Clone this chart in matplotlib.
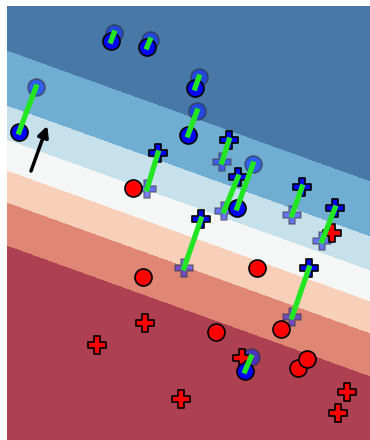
import numpy as np
import matplotlib
matplotlib.use('Agg')
import matplotlib.pyplot as plt

# blue class, circles: original point and counterfactual
blue_circ_x = [1.04, 1.40, 1.88, 1.81, 0.12, 2.30, 2.38]
blue_circ_y = [3.99, 3.93, 3.52, 3.05, 3.08, 2.32, 0.69]
blue_circ_cx = [1.07, 1.43, 1.92, 1.90, 0.29, 2.46, 2.44]
blue_circ_cy = [4.07, 4.00, 3.63, 3.29, 3.53, 2.76, 0.83]

# blue class, pluses
blue_plus_x = [1.51, 2.22, 2.31, 2.95, 3.28, 1.94, 3.02]
blue_plus_y = [2.87, 3.00, 2.63, 2.53, 2.32, 2.21, 1.72]
blue_plus_cx = [1.40, 2.15, 2.17, 2.85, 3.15, 1.77, 2.85]
blue_plus_cy = [2.51, 2.78, 2.29, 2.25, 1.99, 1.72, 1.23]

# red class
red_circ_x = [1.26, 1.36, 2.50, 2.09, 2.74, 2.91, 3.00]
red_circ_y = [2.52, 1.63, 1.72, 1.08, 1.11, 0.72, 0.81]
red_plus_x = [1.38, 0.90, 1.74, 2.35, 3.40, 3.31, 3.25]
red_plus_y = [1.17, 0.95, 0.41, 0.82, 0.48, 0.27, 2.07]

# linear classifier and its contour levels
w = [0.36, 1.0]
levels = [-10, 1.95, 2.38, 2.70, 3.01, 3.35, 3.90, 20]
band_colors = ['#ad4051', '#e08674', '#f8cfb9', '#f5f6f6',
               '#c6e0ec', '#6faed2', '#4878a8']
arrow_tail = [0.24, 2.69]
arrow_len = 0.48

fig = plt.figure(figsize=(3.7, 4.4), dpi=100)
ax = fig.add_axes([7 / 370, 0, 363 / 370, 434 / 440])

xx, yy = np.meshgrid(np.linspace(0, 3.63, 400), np.linspace(0, 4.34, 400))
zz = w[0] * xx + w[1] * yy
ax.contourf(xx, yy, zz, levels=levels, colors=band_colors)

ms = 150
ax.scatter(blue_circ_cx, blue_circ_cy, s=ms, c='#0a2aff', alpha=0.6,
           edgecolors='#333333', linewidths=1.2, zorder=2)
ax.scatter(blue_plus_cx, blue_plus_cy, s=ms, marker='P', c='#1a1aff', alpha=0.55,
           edgecolors='#444444', linewidths=1.2, zorder=2)
ax.scatter(red_plus_x, red_plus_y, s=ms, marker='P', c='red',
           edgecolors='k', linewidths=1.2, zorder=3)
ax.scatter(red_circ_x, red_circ_y, s=ms, c='red',
           edgecolors='k', linewidths=1.2, zorder=3)
ax.scatter(blue_circ_x, blue_circ_y, s=ms, c='blue',
           edgecolors='k', linewidths=1.2, zorder=4)
ax.scatter(blue_plus_x, blue_plus_y, s=ms, marker='P', c='blue',
           edgecolors='k', linewidths=1.2, zorder=4)

for x0, y0, x1, y1 in zip(blue_circ_x + blue_plus_x, blue_circ_y + blue_plus_y,
                          blue_circ_cx + blue_plus_cx, blue_circ_cy + blue_plus_cy):
    ax.plot([x0, x1], [y0, y1], color='#22e622', lw=3.8, zorder=5)

n = np.array(w) / np.hypot(*w)
ax.annotate('', xy=(arrow_tail[0] + arrow_len * n[0], arrow_tail[1] + arrow_len * n[1]),
            xytext=arrow_tail,
            arrowprops=dict(arrowstyle='-|>', color='k', lw=2.5, mutation_scale=16,
                            shrinkA=0, shrinkB=0), zorder=6)

ax.set_xlim(0, 3.63)
ax.set_ylim(0, 4.34)
ax.axis('off')
fig.savefig('out.png', dpi=100)
